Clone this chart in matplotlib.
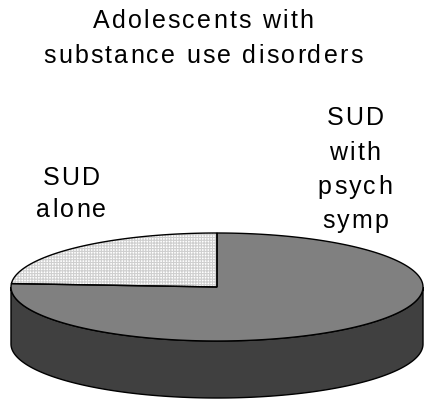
import numpy as np
import matplotlib
matplotlib.use("Agg")
import matplotlib.pyplot as plt
from matplotlib.patches import Polygon
from matplotlib.font_manager import FontProperties, findfont, get_font

plt.rcParams['font.family'] = ['Liberation Sans', 'DejaVu Sans']
plt.rcParams['hatch.linewidth'] = 0.8

title = "Adolescents with\nsubstance use disorders"
categories = ["SUD\nalone", "SUD\nwith\npsych\nsymp"]
values = [24, 76]

top_colors = ["white", "#808080"]
side_color = "#404040"
hatch_color = "#cfcfcf"

W, H = 425, 401
DPI = 100
fig = plt.figure(figsize=(W / DPI, H / DPI), dpi=DPI)
ax = fig.add_axes([0, 0, 1, 1])
ax.set_xlim(0, W)
ax.set_ylim(H, 0)
ax.axis("off")

# pie geometry in pixel units
cx, cy, rx, ry, depth = 217, 287, 206, 54, 57


def rim(t, dy=0.0):
    return np.column_stack([cx + rx * np.cos(t), cy + dy - ry * np.sin(t)])


# side wall (front half of the cylinder)
t_front = np.radians(np.linspace(180, 360, 200))
side = np.vstack([rim(t_front), rim(t_front[::-1], depth)])
ax.add_patch(Polygon(side, closed=True, facecolor=side_color,
                     edgecolor="black", linewidth=1.0, zorder=1))

# top slices, starting at 12 o'clock and running counter-clockwise
fracs = np.array(values, dtype=float) / sum(values)
start = 90.0
for i, (frac, fc) in enumerate(zip(fracs, top_colors)):
    end = start + 360 * frac
    t = np.radians(np.linspace(start, end, 200))
    pts = np.vstack([[cx, cy], rim(t)])
    if i == 0:
        ax.add_patch(Polygon(pts, closed=True, facecolor=fc, edgecolor=hatch_color,
                             linewidth=0, hatch="++++++", zorder=2))
        ax.add_patch(Polygon(pts, closed=True, fill=False, edgecolor="black",
                             linewidth=1.0, zorder=3))
    else:
        ax.add_patch(Polygon(pts, closed=True, facecolor=fc, edgecolor="black",
                             linewidth=1.0, zorder=2))
    start = end

# letter-spaced text
fs = 18
track = 2.2
prop = FontProperties(family='Liberation Sans', size=fs)
font = get_font(findfont(prop))
font.set_size(fs, DPI)


def tracked_line(s, xc, yb):
    adv = []
    for ch in s:
        g = font.load_char(ord(ch))
        adv.append(g.linearHoriAdvance / 65536.0)
    total = sum(adv) + track * (len(s) - 1)
    x = xc - total / 2
    for ch, a in zip(s, adv):
        if ch != " ":
            ax.text(x, yb, ch, ha="left", va="baseline", fontproperties=prop,
                    color="black")
        x += a + track


def tracked_block(s, xc, baselines):
    for line, yb in zip(s.split("\n"), baselines):
        tracked_line(line, xc, yb)


tracked_block(title, 203, [28, 63])
tracked_block(categories[0], 71, [185, 217])
tracked_block(categories[1], 355, [125, 160, 194, 228])

fig.savefig("out.png", dpi=DPI)
